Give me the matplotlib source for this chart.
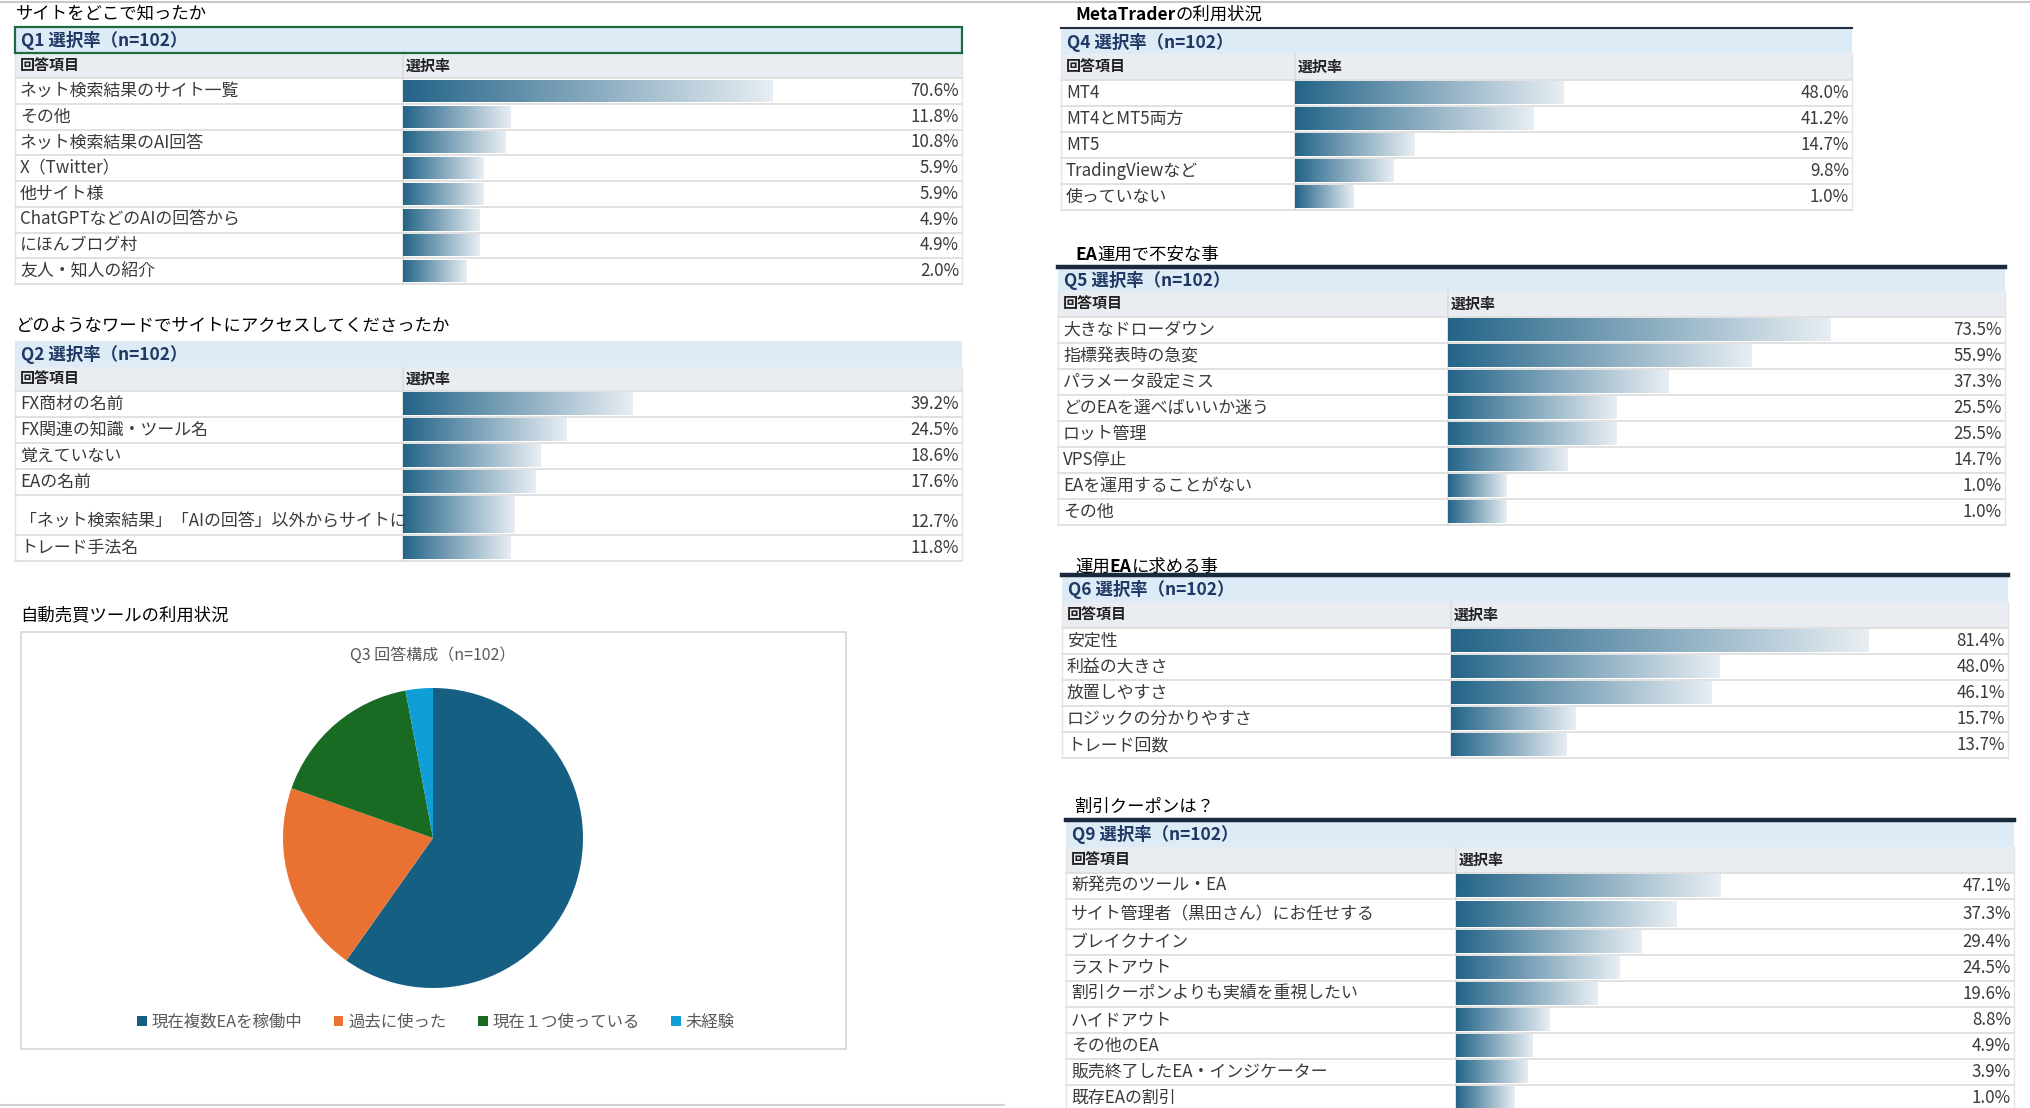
import numpy as np
import matplotlib
matplotlib.use('Agg')
import matplotlib.pyplot as plt
from matplotlib import transforms
from matplotlib.patches import Rectangle, Patch
from matplotlib.lines import Line2D
from matplotlib.colors import LinearSegmentedColormap

plt.rcParams['font.family'] = ['Noto Sans CJK JP', 'DejaVu Sans']

W, H = 2031, 1108

# ---- data ----
q1_items = ['ネット検索結果のサイト一覧', 'その他', 'ネット検索結果のAI回答', 'X（Twitter）',
            '他サイト様', 'ChatGPTなどのAIの回答から', 'にほんブログ村', '友人・知人の紹介']
q1_rates = [70.6, 11.8, 10.8, 5.9, 5.9, 4.9, 4.9, 2.0]

q2_items = ['FX商材の名前', 'FX関連の知識・ツール名', '覚えていない', 'EAの名前',
            '「ネット検索結果」「AIの回答」以外からサイトに', 'トレード手法名']
q2_rates = [39.2, 24.5, 18.6, 17.6, 12.7, 11.8]

q3_labels = ['現在複数EAを稼働中', '過去に使った', '現在１つ使っている', '未経験']
q3_counts = [61, 21, 17, 3]

q4_items = ['MT4', 'MT4とMT5両方', 'MT5', 'TradingViewなど', '使っていない']
q4_rates = [48.0, 41.2, 14.7, 9.8, 1.0]

q5_items = ['大きなドローダウン', '指標発表時の急変', 'パラメータ設定ミス', 'どのEAを選べばいいか迷う',
            'ロット管理', 'VPS停止', 'EAを運用することがない', 'その他']
q5_rates = [73.5, 55.9, 37.3, 25.5, 25.5, 14.7, 1.0, 1.0]

q6_items = ['安定性', '利益の大きさ', '放置しやすさ', 'ロジックの分かりやすさ', 'トレード回数']
q6_rates = [81.4, 48.0, 46.1, 15.7, 13.7]

q9_items = ['新発売のツール・EA', 'サイト管理者（黒田さん）にお任せする', 'ブレイクナイン', 'ラストアウト',
            '割引クーポンよりも実績を重視したい', 'ハイドアウト', 'その他のEA',
            '販売終了したEA・インジケーター', '既存EAの割引']
q9_rates = [47.1, 37.3, 29.4, 24.5, 19.6, 8.8, 4.9, 3.9, 1.0]

n_resp = 102

# ---- styling ----
PX_PER_PCT = 4.46     # data bar scale (px per %)
BASE = 12.2           # excel-style minimum bar length, in %
bar_cmap = LinearSegmentedColormap.from_list('bar', ['#236488', '#e8eef3'])
pie_colors = ['#156082', '#e97132', '#196b24', '#0f9ed5']
txt_col = '#3a3a3a'
navy = '#1f3864'

fig = plt.figure(figsize=(W / 100, H / 100), dpi=100)
# pixel coords, origin top-left
px = transforms.Affine2D().scale(1 / W, -1 / H).translate(0, 1) + fig.transFigure


def rect(x0, y0, x1, y1, **kw):
    fig.add_artist(Rectangle((x0, y0), x1 - x0, y1 - y0, transform=px, **kw))


def hline(x0, x1, y, trans=px, **kw):
    fig.add_artist(Line2D([x0, x1], [y, y], transform=trans, **kw))


def title(x, y, parts, size=12.5):
    # parts: list of (text, weight)
    prev = None
    for s, w in parts:
        if prev is None:
            prev = fig.text(x, y, s, transform=px, fontsize=size, weight=w,
                            va='baseline', ha='left', color='black')
        else:
            prev = fig.add_artist(matplotlib.text.Annotation(
                s, xy=(1, 0), xycoords=prev, va='bottom', ha='left',
                fontsize=size, weight=w, color='black'))


def table(q, items, rates, x0, x1, split, top, hdr_h=26, col_h=25, row_h=26,
          tall=None, tall_bottom=False, top_style=None):
    tall = tall or {}
    hs = np.array([tall.get(i, 1.0) for i in range(len(items))])
    edges = np.concatenate([[0], np.cumsum(hs)])
    centers = edges[:-1] + hs / 2
    rows_top = top + hdr_h + col_h
    rows_bot = rows_top + edges[-1] * row_h

    # header + column header
    rect(x0, top, x1, top + hdr_h, fc='#dcebf6', ec='none', zorder=-1)
    fig.text(x0 + 6, top + hdr_h / 2 + 1, f'{q} 選択率（n={n_resp}）', transform=px,
             fontsize=12.5, weight='bold', color=navy, va='center')
    rect(x0, top + hdr_h, x1, rows_top, fc='#e9edf2', ec='none', zorder=-1)
    fig.text(x0 + 5, top + hdr_h + col_h / 2, '回答項目', transform=px,
             fontsize=10.8, weight='bold', color='#222222', va='center')
    fig.text(split + 3, top + hdr_h + col_h / 2, '選択率', transform=px,
             fontsize=10.8, weight='bold', color='#222222', va='center')
    if top_style == 'box':
        rect(x0, top, x1, top + hdr_h, fc='none', ec='#1e6b40', lw=1.6)
    elif top_style == 'thin':
        hline(x0, x1, top, color='#1f2d3d', lw=1.5)
    elif top_style == 'thick':
        hline(x0, x1, top, color='#1a2a3c', lw=3.2)

    ax = fig.add_axes([split / W, 1 - rows_bot / H, (x1 - split) / W, (rows_bot - rows_top) / H])
    ax.set_zorder(3)
    bars = ax.barh(centers, np.array(rates) + BASE, left=-BASE, height=hs - 0.15,
                   color='none', edgecolor='none')
    for b in bars:
        bx, by, bw, bh = b.get_x(), b.get_y(), b.get_width(), b.get_height()
        ax.imshow(np.linspace(0, 1, 256).reshape(1, -1), cmap=bar_cmap, aspect='auto',
                  extent=[bx, bx + bw, by, by + bh], interpolation='bilinear', zorder=2)
    ax.set_xlim(-BASE, -BASE + (x1 - split) / PX_PER_PCT)
    ax.set_ylim(edges[-1], 0)
    ax.axis('off')

    lab_tr = transforms.blended_transform_factory(px, ax.transData)
    val_tr = transforms.offset_copy(
        transforms.blended_transform_factory(ax.transAxes, ax.transData), fig=fig, x=-3, units='dots')
    for i, (lab, v) in enumerate(zip(items, rates)):
        y = centers[i]
        if i in tall and tall_bottom:
            y = edges[i + 1] - 0.5
        fig.text(x0 + 5, y, lab, transform=lab_tr, fontsize=12.2, color=txt_col, va='center')
        ax.text(1, y, f'{v:.1f}%', transform=val_tr, fontsize=12.2, color=txt_col,
                va='center', ha='right')

    # grid lines of the table
    for e in edges:
        hline(x0, x1, e, trans=lab_tr, color='#dcdcdc', lw=1.2, zorder=0)
    fig.add_artist(Line2D([split, split], [top + hdr_h, rows_bot], transform=px, color='#dcdcdc', lw=1.2, zorder=0))
    fig.add_artist(Line2D([x0, x0], [top + hdr_h, rows_bot], transform=px, color='#e4e4e4', lw=1, zorder=0))
    fig.add_artist(Line2D([x1, x1], [top + hdr_h, rows_bot], transform=px, color='#e4e4e4', lw=1, zorder=0))


# sheet edges
hline(0, W, 2, color='#c8c8c8', lw=1.5)
hline(0, 1004, 1105, color='#d0d0d0', lw=1.5)

# ---- left column ----
title(16, 19, [('サイトをどこで知ったか', 'normal')])
table('Q1', q1_items, q1_rates, 15, 962, 403, 27, hdr_h=26, col_h=25, row_h=25.75, top_style='box')

title(16, 331, [('どのようなワードでサイトにアクセスしてくださったか', 'normal')])
table('Q2', q2_items, q2_rates, 15, 962, 403, 341, hdr_h=26, col_h=24, row_h=25.9,
      tall={4: 1.55}, tall_bottom=True)

title(20, 620, [('自動売買ツールの利用状況', 'normal')])
rect(21, 632, 846, 1049, fc='white', ec='#d9d9d9', lw=1.3, zorder=-1)
fig.text(433, 655, f'Q3 回答構成（n={n_resp}）', transform=px, fontsize=11.5,
         color='#595959', ha='center', va='center')
axp = fig.add_axes([283 / W, 1 - 988 / H, 300 / W, 300 / H])
axp.set_zorder(3)
axp.pie(q3_counts, colors=pie_colors, startangle=90, counterclock=False,
        wedgeprops=dict(linewidth=0))
axp.set_xlim(-1.0, 1.0)
axp.set_ylim(-1.0, 1.0)
axp.set_aspect('equal')
handles = [Patch(fc=c, ec='none') for c in pie_colors]
leg = fig.legend(handles, q3_labels, ncol=4, loc='center', bbox_to_anchor=(436, 1022),
                 bbox_transform=px, frameon=False, fontsize=11.8, handlelength=0.6,
                 handleheight=0.6, handletextpad=0.3, columnspacing=1.9)
for t in leg.get_texts():
    t.set_color('#595959')

# ---- right column ----
title(1075, 20, [('MetaTrader', 'bold'), ('の利用状況', 'normal')])
table('Q4', q4_items, q4_rates, 1061, 1852, 1295, 28, hdr_h=26, col_h=26, row_h=25.9, top_style='thin')

title(1075, 260, [('EA', 'bold'), ('運用で不安な事', 'normal')])
table('Q5', q5_items, q5_rates, 1058, 2005, 1448, 267, hdr_h=24, col_h=26, row_h=26, top_style='thick')

title(1075, 572, [('運用', 'normal'), ('EA', 'bold'), ('に求める事', 'normal')])
table('Q6', q6_items, q6_rates, 1062, 2008, 1451, 575, hdr_h=27, col_h=26, row_h=26, top_style='thick')

title(1075, 812, [('割引クーポンは？', 'normal')])
table('Q9', q9_items, q9_rates, 1066, 2014, 1456, 820, hdr_h=27, col_h=26, row_h=26,
      tall={1: 1.15}, top_style='thick')

fig.savefig('out.png', dpi=100)
